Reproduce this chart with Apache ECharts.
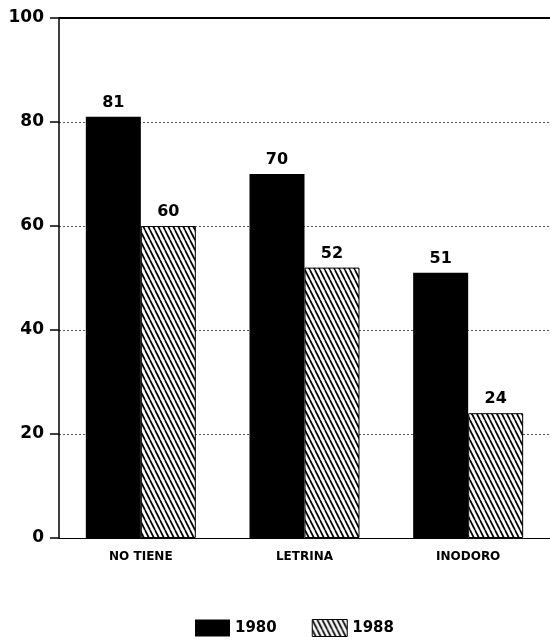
<!DOCTYPE html>
<html><head><meta charset="utf-8">
<script src="https://cdn.jsdelivr.net/npm/echarts@6/dist/echarts.min.js"></script>
<style>html,body{margin:0;padding:0;background:#fff}#c{width:550px;height:642px}</style>
</head><body><div id="c"></div>
<script>
const categories = ['NO TIENE', 'LETRINA', 'INODORO'];
const values1980 = [81, 70, 51];
const values1988 = [60, 52, 24];
const yTicks = [0, 20, 40, 60, 80, 100];

function hatch() {
  const w = 5, h = 10;
  const cv = document.createElement('canvas');
  cv.width = w; cv.height = h;
  const g = cv.getContext('2d');
  g.fillStyle = '#fff'; g.fillRect(0, 0, w, h);
  g.strokeStyle = '#000'; g.lineWidth = 1.7;
  for (let k = -1; k <= 1; k++) {
    g.beginPath();
    g.moveTo(k * w, 0);
    g.lineTo(k * w + w, h);
    g.stroke();
  }
  return {image: cv, repeat: 'repeat'};
}
const pat = hatch();
const font = 'DejaVu Sans';

const chart = echarts.init(document.getElementById('c'));
chart.setOption({
  animation: false,
  textStyle: {fontFamily: font},
  grid: {left: 59, top: 18, width: 493, bottom: 104},
  legend: {
    top: 619, left: 195, padding: 0, itemWidth: 35, itemHeight: 17, itemGap: 35, icon: 'rect',
    textStyle: {fontFamily: font, fontWeight: 'bold', fontSize: 15, color: '#000'},
    data: [
      {name: '1980', itemStyle: {color: '#000'}},
      {name: '1988', itemStyle: {color: pat, borderColor: '#000', borderWidth: 1}}
    ]
  },
  xAxis: {
    type: 'category', data: categories,
    axisLine: {lineStyle: {color: '#000', width: 1}},
    axisTick: {alignWithLabel: true, length: 5, lineStyle: {color: '#000'}},
    axisLabel: {fontFamily: font, fontWeight: 'bold', fontSize: 12, color: '#000', margin: 13}
  },
  yAxis: {
    type: 'value', min: 0, max: 100, interval: 20,
    axisLine: {show: true, lineStyle: {color: '#000', width: 1.5}},
    axisTick: {show: true, inside: false, length: 9, lineStyle: {color: '#000', width: 1.5}},
    axisLabel: {fontFamily: font, fontWeight: 'bold', fontSize: 17, color: '#000', margin: 15},
    splitLine: {show: true, lineStyle: {color: '#555', type: [2, 2], width: 1}}
  },
  series: [
    {
      name: '1980', type: 'bar', data: values1980, barWidth: 55, barGap: '0%',
      itemStyle: {color: '#000'},
      label: {show: true, position: 'top', distance: 6, fontFamily: font, fontWeight: 'bold', fontSize: 16, color: '#000'}
    },
    {
      name: '1988', type: 'bar', data: values1988, barWidth: 55,
      itemStyle: {color: pat, borderColor: '#000', borderWidth: 1},
      label: {show: true, position: 'top', distance: 6, fontFamily: font, fontWeight: 'bold', fontSize: 16, color: '#000'}
    },
    {
      type: 'line', data: [], z: 10, markLine: {
        silent: true, symbol: 'none', label: {show: false},
        lineStyle: {color: '#000', type: 'solid', width: 2},
        data: [{yAxis: 100}]
      }
    }
  ]
});
</script></body></html>
